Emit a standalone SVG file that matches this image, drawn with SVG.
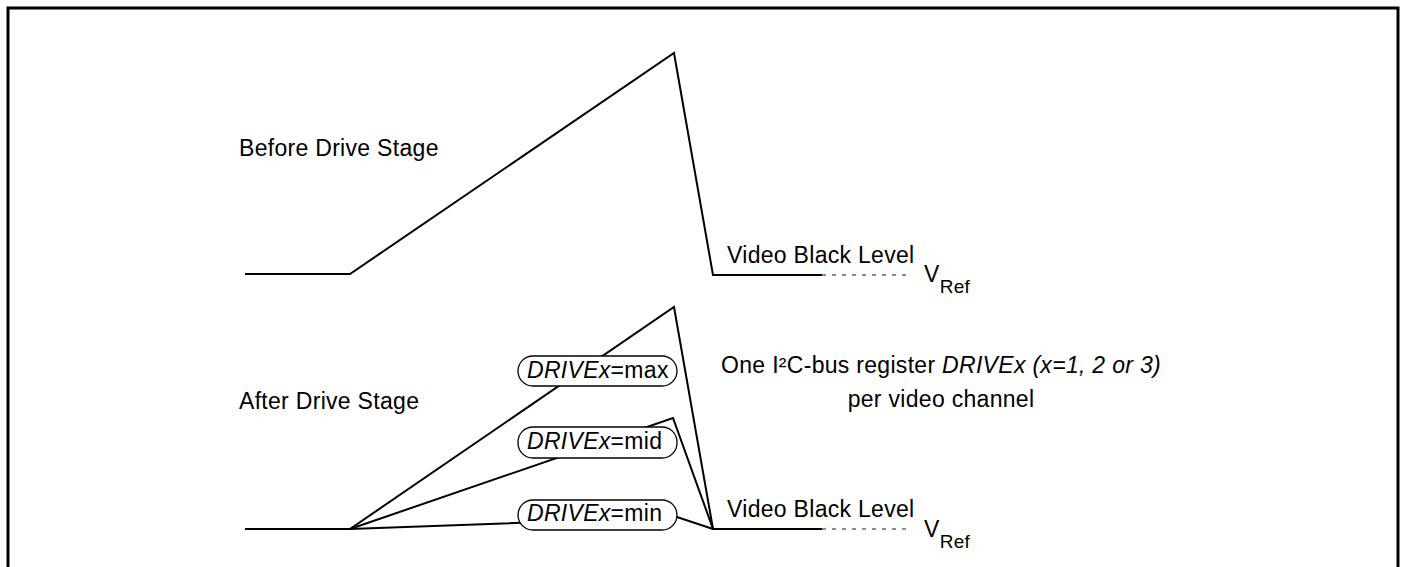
<svg xmlns="http://www.w3.org/2000/svg" width="1401" height="567" viewBox="0 0 1401 567">
<style>
.t{font-family:"Liberation Sans",Arial,sans-serif;font-size:23px;letter-spacing:0.3px;fill:#000}
.i{font-style:italic}
.w{fill:none;stroke:#000;stroke-width:2;stroke-linejoin:miter}
.d{fill:none;stroke:#666;stroke-width:1.3;stroke-dasharray:4 6}
.pill{fill:#fff;stroke:#000;stroke-width:1.3}
</style>
<rect x="0" y="0" width="1401" height="567" fill="#fff"/>
<path d="M8 575 V8 H1398 V575" fill="none" stroke="#000" stroke-width="3"/>
<g id="connectors">
<polyline class="w" points="245,274 350,274 674,53 713,275 822,275"/>
<line class="d" x1="822" y1="275" x2="912" y2="275"/>
<polyline class="w" points="245,529 350,529 674,307 713,529 822,529"/>
<polyline class="w" points="350,529 673,418 713,529"/>
<polyline class="w" points="350,529 677,517 713,529"/>
<line class="d" x1="822" y1="529" x2="912" y2="529"/>
</g>
<g id="label-before"><text class="t" x="239" y="156">Before Drive Stage</text></g>
<g id="label-after"><text class="t" x="239" y="409">After Drive Stage</text></g>
<g id="label-black-top"><text class="t" x="727" y="263">Video Black Level</text></g>
<g id="label-vref-top"><text class="t" x="924" y="282">V<tspan font-size="19" dy="11">Ref</tspan></text></g>
<g id="label-black-bot"><text class="t" x="727" y="517">Video Black Level</text></g>
<g id="label-vref-bot"><text class="t" x="924" y="537">V<tspan font-size="19" dy="11">Ref</tspan></text></g>
<g id="pill-max"><rect class="pill" x="518" y="356" width="159" height="30" rx="15"/><text class="t" x="527" y="378"><tspan class="i">DRIVEx</tspan>=max</text></g>
<g id="pill-mid"><rect class="pill" x="518" y="427" width="159" height="31" rx="15"/><text class="t" x="527" y="449"><tspan class="i">DRIVEx</tspan>=mid</text></g>
<g id="pill-min"><rect class="pill" x="518" y="500" width="159" height="30" rx="15"/><text class="t" x="527" y="521"><tspan class="i">DRIVEx</tspan>=min</text></g>
<g id="note"><text class="t" x="941" y="373" text-anchor="middle">One I²C-bus register <tspan class="i">DRIVEx (x=1, 2 or 3)</tspan></text><text class="t" x="941" y="407" text-anchor="middle">per video channel</text></g>
</svg>
